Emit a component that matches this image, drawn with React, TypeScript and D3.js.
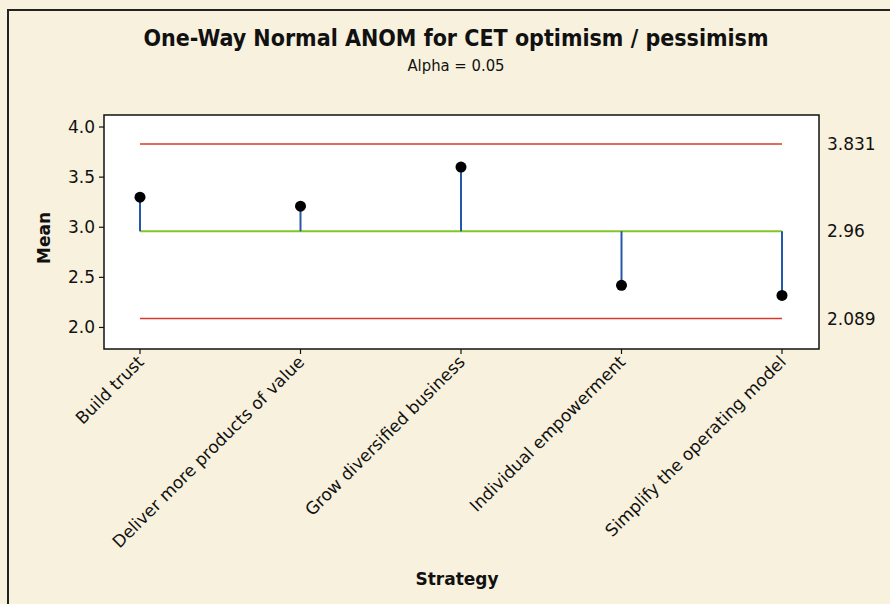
import React from "react";
import * as d3 from "d3";

const categories = [
  "Build trust",
  "Deliver more products of value",
  "Grow diversified business",
  "Individual empowerment",
  "Simplify the operating model",
];
const means = [3.3, 3.21, 3.6, 2.42, 2.32];
const centerLine = 2.96;
const upperLimit = 3.831;
const lowerLimit = 2.089;
const limitLabels = ["3.831", "2.96", "2.089"];
const yTicks = [2.0, 2.5, 3.0, 3.5, 4.0];

const W = 890;
const H = 604;
const plot = { left: 104, right: 819, top: 115, bottom: 349 };

export default function App() {
  const y = d3
    .scaleLinear()
    .domain([1.785, 4.12])
    .range([plot.bottom, plot.top]);
  const x = d3
    .scalePoint<string>()
    .domain(categories)
    .range([140, 782]);

  const cond = "'DejaVu Sans Condensed', 'DejaVu Sans', sans-serif";
  const font = "'DejaVu Sans', sans-serif";
  const x0 = x(categories[0])!;
  const x1 = x(categories[categories.length - 1])!;

  return (
    <svg
      width={W}
      height={H}
      style={{ position: "absolute", left: 0, top: 0 }}
      fontFamily={font}
    >
      <rect x={0} y={0} width={W} height={H} fill="#f8f1dd" />
      <rect x={8} y={10} width={W + 10} height={H + 10} fill="none" stroke="#222" strokeWidth={2} />
      <text x={456} y={46} textAnchor="middle" fontSize={23} fontWeight="bold" fill="#111" fontFamily={cond}>
        One-Way Normal ANOM for CET optimism / pessimism
      </text>
      <text x={456} y={71} textAnchor="middle" fontSize={16.5} fill="#111" fontFamily={cond}>
        Alpha = 0.05
      </text>

      <rect
        x={plot.left}
        y={plot.top}
        width={plot.right - plot.left}
        height={plot.bottom - plot.top}
        fill="#ffffff"
        stroke="#111"
        strokeWidth={1.5}
      />

      {yTicks.map((t) => (
        <g key={t}>
          <line x1={plot.left - 5} x2={plot.left} y1={y(t)} y2={y(t)} stroke="#111" strokeWidth={1.2} />
          <text x={plot.left - 9} y={y(t) + 6} textAnchor="end" fontSize={17} fill="#111">
            {t.toFixed(1)}
          </text>
        </g>
      ))}

      <line x1={x0} x2={x1} y1={y(upperLimit)} y2={y(upperLimit)} stroke="#d9382a" strokeWidth={1.5} />
      <line x1={x0} x2={x1} y1={y(lowerLimit)} y2={y(lowerLimit)} stroke="#d9382a" strokeWidth={1.5} />
      <line x1={x0} x2={x1} y1={y(centerLine)} y2={y(centerLine)} stroke="#84c62a" strokeWidth={1.8} />

      {[upperLimit, centerLine, lowerLimit].map((v, i) => (
        <text key={i} x={827} y={y(v) + 6} fontSize={17} fill="#111">
          {limitLabels[i]}
        </text>
      ))}

      {categories.map((c, i) => (
        <g key={c}>
          <line
            x1={x(c)!}
            x2={x(c)!}
            y1={y(centerLine)}
            y2={y(means[i])}
            stroke="#2558a8"
            strokeWidth={2}
          />
          <circle cx={x(c)!} cy={y(means[i])} r={5.5} fill="#000" />
          <line x1={x(c)!} x2={x(c)!} y1={plot.bottom} y2={plot.bottom + 5} stroke="#111" strokeWidth={1.2} />
          <text
            transform={`translate(${x(c)! + 5},${plot.bottom + 14}) rotate(-45)`}
            textAnchor="end"
            fontSize={17}
            fill="#111"
          >
            {c}
          </text>
        </g>
      ))}

      <text
        transform={`translate(50,238) rotate(-90)`}
        textAnchor="middle"
        fontSize={17}
        fontWeight="bold"
        fill="#111"
      >
        Mean
      </text>
      <text x={457} y={585} textAnchor="middle" fontSize={17} fontWeight="bold" fill="#111">
        Strategy
      </text>
    </svg>
  );
}
